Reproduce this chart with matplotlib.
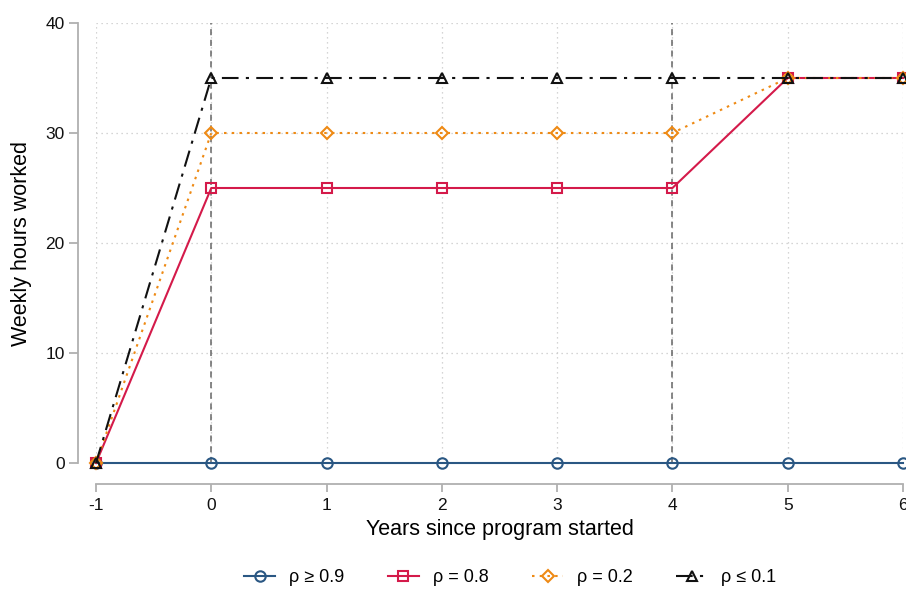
import matplotlib
matplotlib.use("Agg")
import matplotlib.pyplot as plt
from matplotlib.lines import Line2D

years = [-1, 0, 1, 2, 3, 4, 5, 6]
hours_rho_high = [0, 0, 0, 0, 0, 0, 0, 0]
hours_rho_08 = [0, 25, 25, 25, 25, 25, 35, 35]
hours_rho_02 = [0, 30, 30, 30, 30, 30, 35, 35]
hours_rho_low = [0, 35, 35, 35, 35, 35, 35, 35]
labels = ["ρ ≥ 0.9", "ρ = 0.8", "ρ = 0.2", "ρ ≤ 0.1"]
ref_lines = [0, 4]
yticks = [0, 10, 20, 30, 40]

plt.rcParams["font.family"] = ["Liberation Sans", "DejaVu Sans"]

W, H = 906, 596
fig = plt.figure(figsize=(W / 100, H / 100), dpi=100)
x0, x1 = 96, 903
y0, y1 = 23, 463
ax = fig.add_axes([x0 / W, 1 - y1 / H, (x1 - x0) / W, (y1 - y0) / H])
ax.set_xlim(-1, 6)
ax.set_ylim(0, 40)

grid_kw = dict(color="#c8c8c8", linewidth=0.9, linestyle=(0, (1, 3)), zorder=0)
for yv in yticks:
    ax.axhline(yv, **grid_kw)
for xv in years:
    ax.axvline(xv, **grid_kw)
for xv in ref_lines:
    ax.axvline(xv, color="#666666", linewidth=1.1, linestyle=(0, (4, 3)), zorder=1)

series = [
    (hours_rho_high, "#2a5783", "o", "-"),
    (hours_rho_08, "#d41a4a", "s", "-"),
    (hours_rho_02, "#ee8a14", "D", (0, (1.2, 2.5))),
    (hours_rho_low, "#111111", "^", (0, (8, 3.5, 1.5, 3.5))),
]
handles = []
for i, (vals, col, mk, ls) in enumerate(series):
    ms = 7.5 if mk != "D" else 6.5
    ax.plot(years, vals, color=col, linestyle=ls, linewidth=1.5, marker=mk,
            markersize=ms, markerfacecolor="none", markeredgecolor=col,
            markeredgewidth=1.5, clip_on=False, zorder=3 + i)
    handles.append(Line2D([0], [0], color=col, linestyle=ls, linewidth=1.5,
                          marker=mk, markersize=ms, markerfacecolor="none",
                          markeredgecolor=col, markeredgewidth=1.5))

for side in ("top", "right"):
    ax.spines[side].set_visible(False)
ax.spines["left"].set_position(("outward", 13))
ax.spines["bottom"].set_position(("outward", 15))
ax.spines["left"].set_bounds(0, 40)
ax.spines["bottom"].set_bounds(-1, 6)
for side in ("left", "bottom"):
    ax.spines[side].set_color("#b0b0b0")
    ax.spines[side].set_linewidth(1.3)

ax.set_xticks(years)
ax.set_xticklabels([str(v) for v in years])
ax.set_yticks(yticks)
ax.tick_params(axis="both", colors="#b0b0b0", width=1.3,
               labelcolor="#111111", labelsize=12.5)
ax.tick_params(axis="x", length=5.5, pad=5)
ax.tick_params(axis="y", length=6.5, pad=3)

ax.set_xlabel("Years since program started", fontsize=15.5)
ax.set_ylabel("Weekly hours worked", fontsize=15.5)
ax.xaxis.set_label_coords(499.5 / W, 1 - 530 / H, transform=fig.transFigure)
ax.yaxis.set_label_coords(22 / W, 1 - 243.5 / H, transform=fig.transFigure)
ax.xaxis.label.set_va("center")
ax.yaxis.label.set_va("center")

fig.legend(handles, labels, loc="center", bbox_to_anchor=(510 / W, 1 - 578 / H),
           ncol=4, frameon=False, fontsize=13, handlelength=1.75,
           columnspacing=2.4, handletextpad=0.75)

fig.savefig("out.png", dpi=100)
